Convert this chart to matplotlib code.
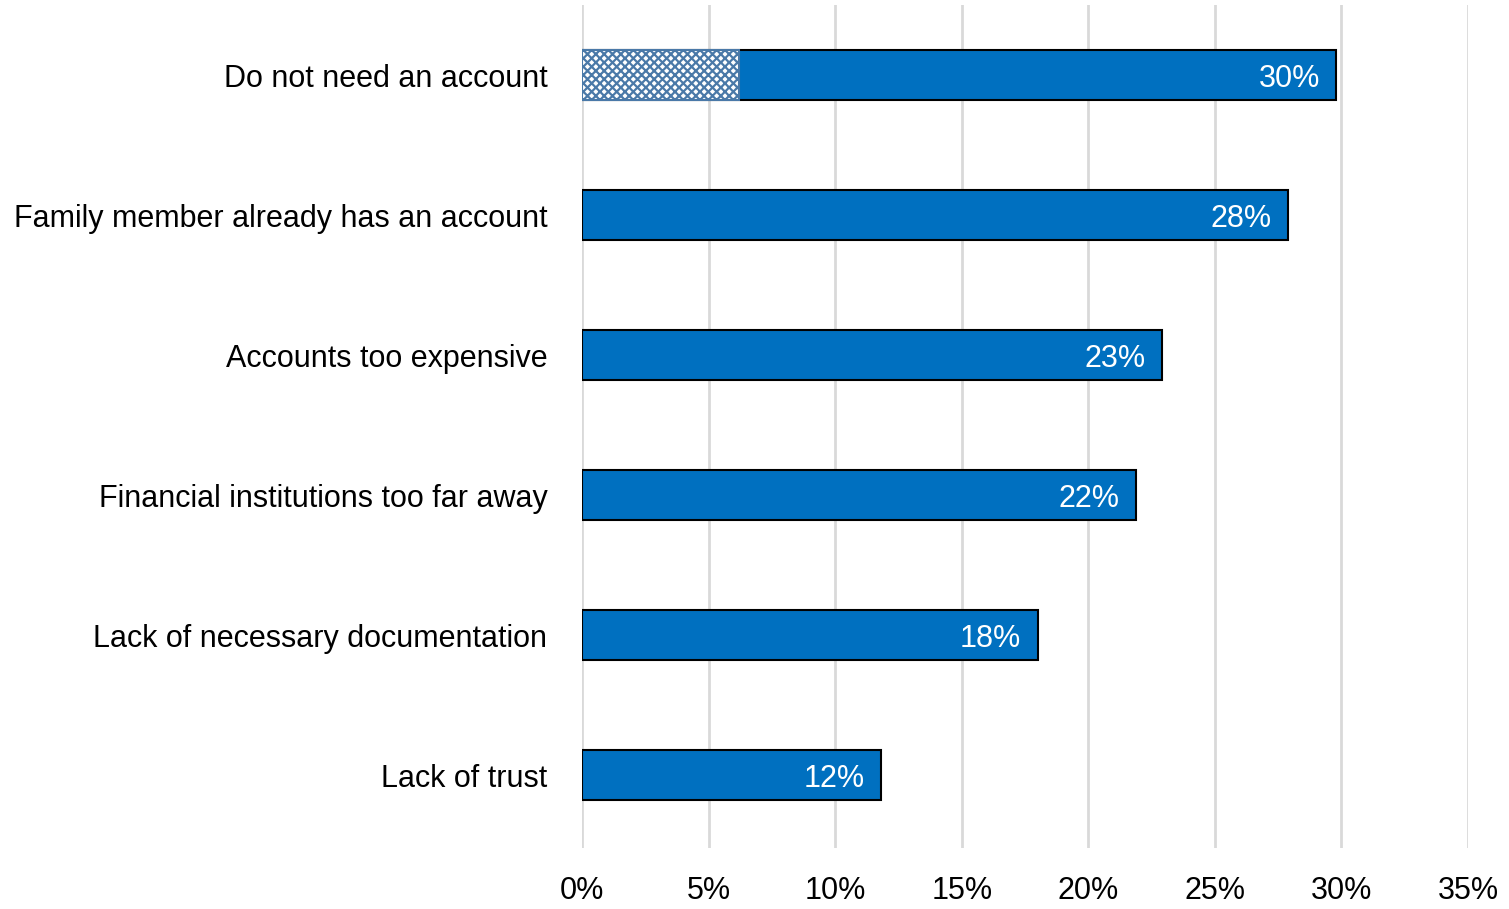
import matplotlib
matplotlib.use("Agg")
import matplotlib.pyplot as plt
from matplotlib import font_manager

categories = ["Do not need an account", "Family member already has an account",
              "Accounts too expensive", "Financial institutions too far away",
              "Lack of necessary documentation", "Lack of trust"]
values = [29.8, 27.9, 22.9, 21.9, 18.0, 11.8]
labels = ["30%", "28%", "23%", "22%", "18%", "12%"]
hatched_part = 6.2
xticks = [0, 5, 10, 15, 20, 25, 30, 35]
xticklabels = ["0%", "5%", "10%", "15%", "20%", "25%", "30%", "35%"]

names = {f.name for f in font_manager.fontManager.ttflist}
fam = "Liberation Sans Narrow" if "Liberation Sans Narrow" in names else "Liberation Sans"
plt.rcParams['font.family'] = [fam, 'DejaVu Sans']
plt.rcParams['hatch.linewidth'] = 1.6
plt.rcParams['hatch.color'] = '#0070c0'

fig = plt.figure(figsize=(15.09, 9.09), dpi=100)
ax = fig.add_axes([582/1509, 1-848/909, (1468-582)/1509, (848-5)/909])

ypos = list(range(len(categories)))
blue = '#0070c0'
ax.barh(ypos, values, height=0.357, color=blue, edgecolor='black', linewidth=1.5, zorder=3)
ax.barh([0], [hatched_part], height=0.357, color='white', edgecolor='#4a79a8',
        hatch='xxxx', linewidth=1.5, zorder=4)

for y, v, lab in zip(ypos, values, labels):
    ax.text(v - 0.65, y, lab, ha='right', va='center_baseline', color='white',
            fontsize=22, zorder=5)

ax.set_xlim(0, 35)
ax.set_ylim(5.52, -0.5)
ax.set_yticks(ypos)
ax.set_yticklabels(categories, fontsize=22)
ax.set_xticks(xticks)
ax.set_xticklabels(xticklabels, fontsize=22)
ax.tick_params(axis='y', length=0, pad=25)
ax.tick_params(axis='x', length=0, pad=20)
for s in ax.spines.values():
    s.set_visible(False)
ax.grid(axis='x', color='#d9d9d9', linewidth=2, zorder=0)
ax.set_axisbelow(True)

fig.savefig("out.png", dpi=100)
